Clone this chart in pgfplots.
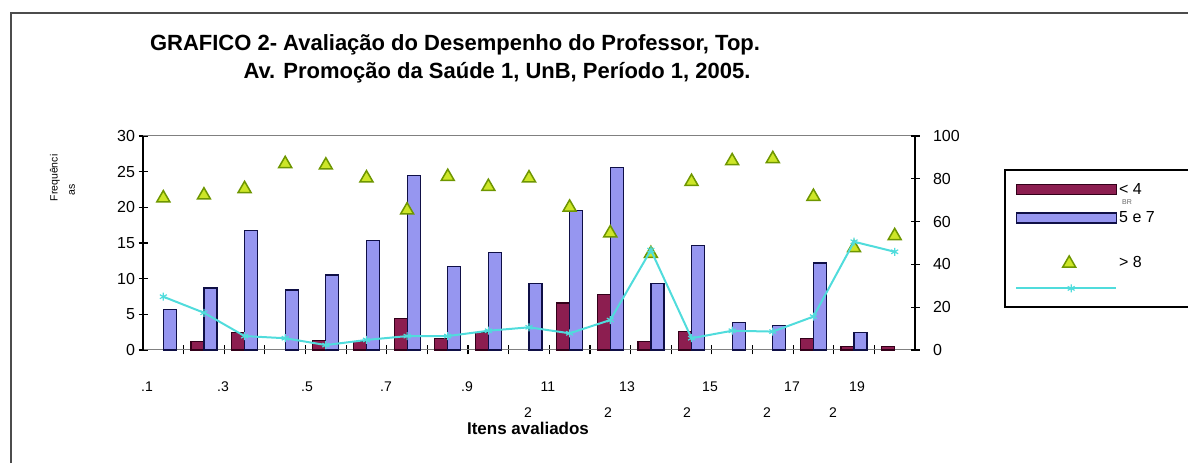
\documentclass[border=0pt]{standalone}
\usepackage{fontspec}
\setmainfont{Liberation Sans}
\usepackage{pgfplots}
\pgfplotsset{compat=1.18}
\definecolor{mar}{RGB}{140,30,80}
\definecolor{mardk}{RGB}{50,0,25}
\definecolor{lav}{RGB}{150,150,240}
\definecolor{lavdk}{RGB}{15,15,70}
\definecolor{trif}{RGB}{205,230,40}
\definecolor{trid}{RGB}{110,150,0}
\definecolor{cyn}{RGB}{80,220,220}
\pgfplotsset{
  legmar/.style={legend image code/.code={\draw[fill=mar,draw=mardk,line width=1.2pt] (0pt,-5pt) rectangle (100pt,5pt);}},
  leglav/.style={legend image code/.code={\draw[fill=lav,draw=lavdk,line width=1.2pt] (0pt,-5pt) rectangle (100pt,5pt);}},
  legtri/.style={legend image code/.code={\draw[draw=trid,fill=trif,line width=1.5pt] plot[mark=triangle*,mark size=7.5pt] coordinates {(53pt,-9pt)};}},
  legcyn/.style={legend image code/.code={\draw[cyn,line width=2pt] (0pt,-3pt) -- (100pt,-3pt); \draw[cyn,line width=1.2pt] plot[mark=asterisk,mark size=4pt] coordinates {(55pt,-3pt)};}},
}
\begin{document}
\begin{tikzpicture}[x=1pt,y=1pt]
\path[use as bounding box] (0,0) rectangle (1188,463);
\draw[line width=2pt, black!70] (11,0) -- (11,450) -- (1188,450);
% title
\node[font=\fontsize{22}{24}\selectfont\bfseries] at (455,418) {GRAFICO 2- Avaliação do Desempenho do Professor, Top.};
\node[font=\fontsize{22}{24}\selectfont\bfseries] at (497,390) {Av. Promoção da Saúde 1, UnB, Período 1, 2005.};
% left y label
\node[rotate=90, font=\fontsize{10.5}{12}\selectfont] at (55,285) {Frequênci};
\node[rotate=90, font=\fontsize{10.5}{12}\selectfont] at (72,273) {as};

\begin{axis}[at={(143pt,113pt)}, anchor=south west, scale only axis,
  width=772pt, height=214pt,
  xmin=0.5, xmax=19.5, ymin=0, ymax=30, ytick={0,5,...,30},
  xtick={1.5,2.5,...,18.5}, xticklabels={},
  axis x line*=bottom, axis y line*=left, axis line style={-}, separate axis lines,
  x axis line style={gray, line width=1pt}, y axis line style={black, line width=1.2pt},
  tick align=center, major tick length=9pt,
  xtick style={black, line width=1.2pt}, ytick style={black, line width=1.2pt},
  tick label style={font=\fontsize{16}{16}\selectfont},
  /pgf/number format/assume math mode=true,
  clip=false]
\draw[gray, line width=1pt] (rel axis cs:0,1) -- (rel axis cs:1,1);
\addplot[ybar, bar width=0.32, bar shift=-0.16, fill=mar, draw=mardk, line width=1.2pt]
  coordinates {(2,1.2) (3,2.5) (5,1.3) (6,1.2) (7,4.4) (8,1.6) (9,2.4) (11,6.6) (12,7.8) (13,1.2) (14,2.6) (17,1.6) (18,0.5) (19,0.5)};
\addplot[ybar, bar width=0.32, bar shift=0.16, fill=lav, draw=lavdk, line width=1.2pt]
  coordinates {(1,5.7) (2,8.7) (3,16.8) (4,8.4) (5,10.5) (6,15.3) (7,24.5) (8,11.7) (9,13.7) (10,9.3) (11,19.5) (12,25.6) (13,9.3) (14,14.7) (15,3.9) (16,3.4) (17,12.2) (18,2.5)};
\addplot[only marks, mark=triangle*, mark size=7.5pt, mark options={fill=trif, draw=trid, line width=1.5pt}]
  coordinates {(1,21.3) (2,21.7) (3,22.6) (4,26.1) (5,25.9) (6,24.1) (7,19.6) (8,24.3) (9,22.9) (10,24.1) (11,20.0) (12,16.4) (13,13.5) (14,23.6) (15,26.5) (16,26.8) (17,21.5) (18,14.3) (19,16.0)};
\end{axis}

\begin{axis}[at={(143pt,113pt)}, anchor=south west, scale only axis,
  width=772pt, height=214pt,
  xmin=0.5, xmax=19.5, ymin=0, ymax=100, ytick={0,20,...,100},
  axis x line=none, axis y line*=right, axis line style={-, black, line width=1.2pt},
  tick align=center, major tick length=9pt, ytick style={black, line width=1.2pt},
  yticklabel style={font=\fontsize{16}{16}\selectfont, xshift=10pt},
  /pgf/number format/assume math mode=true,
  clip=false,
  legend style={at={(rel axis cs:1.1295,0.79)}, anchor=north west, draw=none, fill=none,
    inner sep=0pt, row sep=12pt, font=\fontsize{16}{16}\selectfont},
  legend cell align=left]
\addlegendimage{legmar}\addlegendentry{< 4}
\addlegendimage{leglav}\addlegendentry{5 e 7}
\addlegendimage{legtri}\addlegendentry{\rule{0pt}{27pt}> 8}
\addplot[legcyn, cyn, line width=2pt, mark=asterisk, mark size=4pt, mark options={line width=1.2pt}]
  coordinates {(1,24.9) (2,17.4) (3,6.5) (4,5.5) (5,2.3) (6,4.7) (7,6.5) (8,6.5) (9,9.0) (10,10.6) (11,7.8) (12,14.0) (13,46.7) (14,5.5) (15,9.0) (16,8.6) (17,15.6) (18,50.6) (19,45.9)};
\addlegendentry{}
\end{axis}

% legend frame (open on the right, cut by the page edge)
\draw[black, line width=1.5pt] (1188,293) -- (1005,293) -- (1005,156) -- (1188,156);
\node[font=\fontsize{7}{8}\selectfont, text=black!60] at (1127,261) {BR};

% category labels
\begin{scope}[every node/.style={font=\fontsize{14}{16}\selectfont}]
\node at (147,76) {.1}; \node at (223,76) {.3}; \node at (307,76) {.5};
\node at (386,76) {.7}; \node at (467,76) {.9}; \node at (548,76) {11};
\node at (627,76) {13}; \node at (710,76) {15}; \node at (792,76) {17};
\node at (857,76) {19};
\node at (528,50) {2}; \node at (608,50) {2}; \node at (687,50) {2};
\node at (767,50) {2}; \node at (833,50) {2};
\end{scope}
\node[font=\fontsize{17}{19}\selectfont\bfseries] at (528,35) {Itens avaliados};
\end{tikzpicture}
\end{document}
